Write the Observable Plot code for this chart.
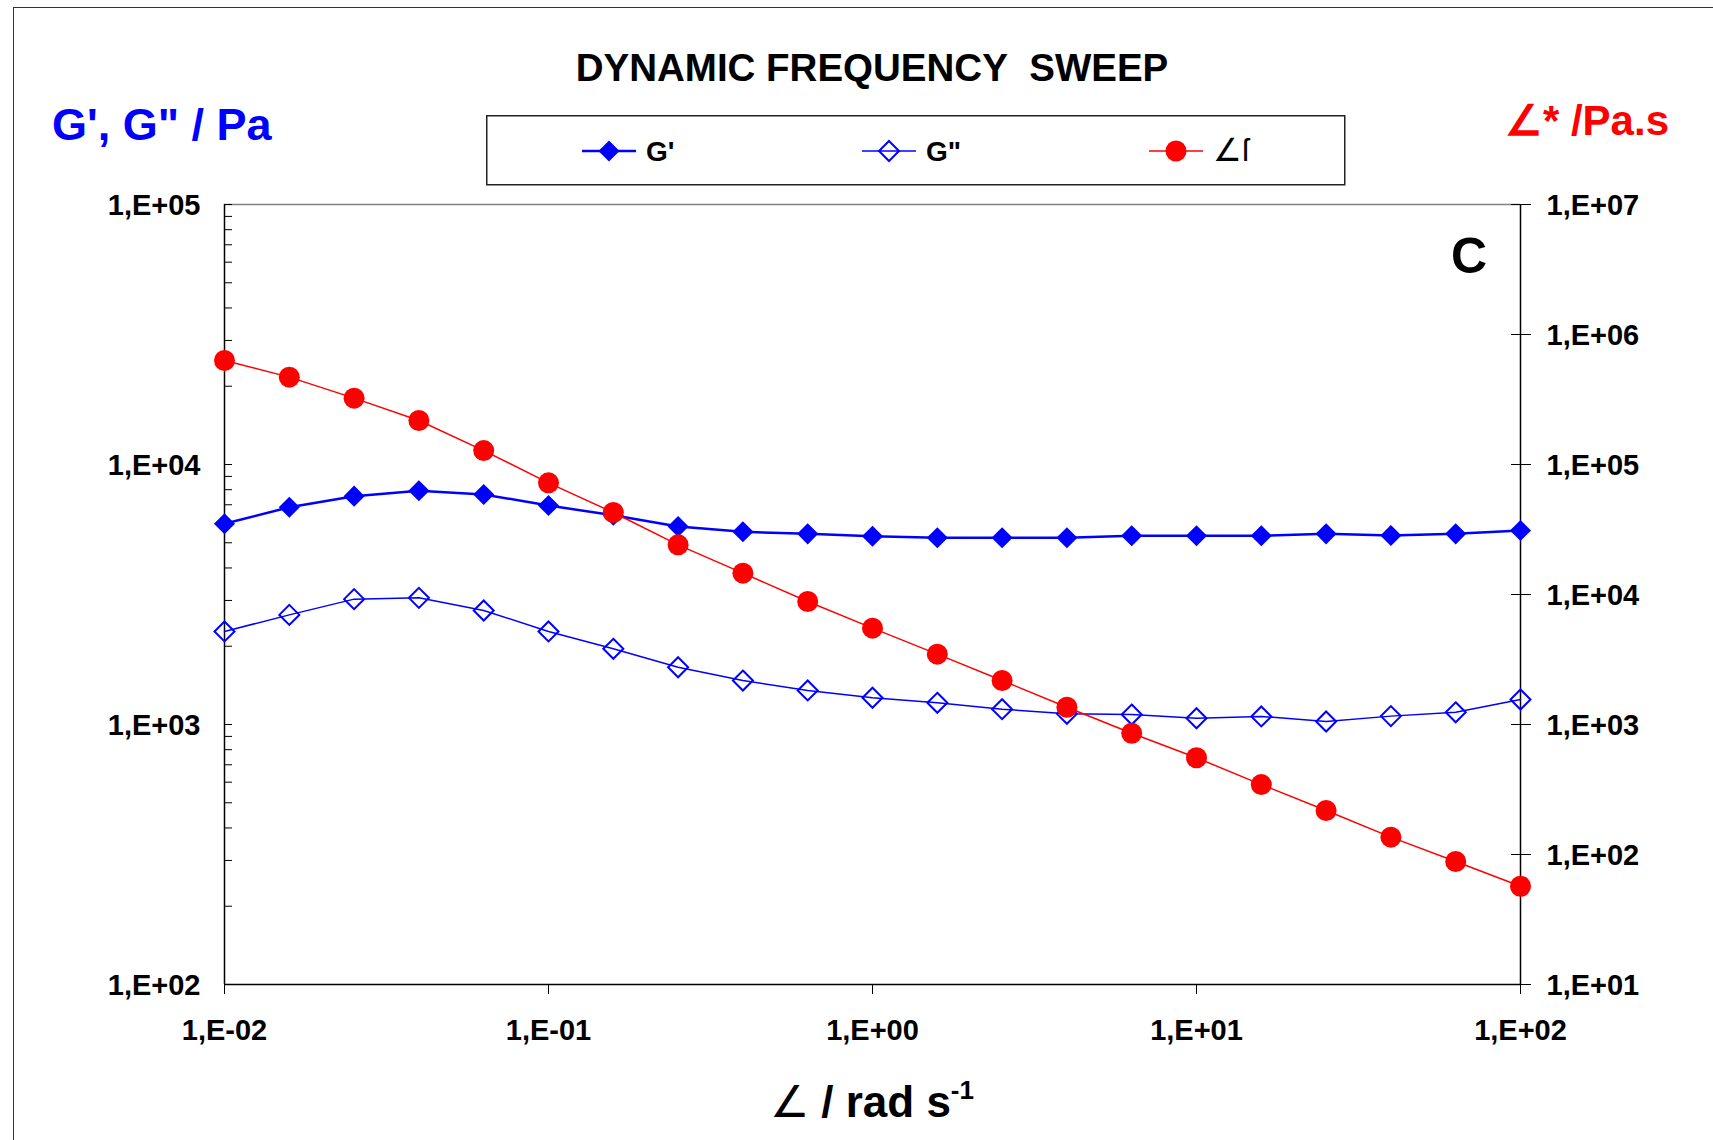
<!DOCTYPE html>
<html><head><meta charset="utf-8">
<script src="https://cdn.jsdelivr.net/npm/d3@7"></script>
<script src="https://cdn.jsdelivr.net/npm/@observablehq/plot@0.6"></script>
<style>
body{margin:0;background:#fff;}
#wrap{position:relative;width:1713px;height:1140px;overflow:hidden;font-family:"Liberation Sans",Arial,sans-serif;background:#fff;}
.abs{position:absolute;white-space:nowrap;line-height:1;}
#plot{position:absolute;left:0;top:0;}
</style></head><body><div id="wrap"><div id="plot"></div></div>
<script>
// angular frequency (rad/s)
const omega = [0.01, 0.01585, 0.02512, 0.03981, 0.0631, 0.1, 0.1585, 0.2512, 0.3981, 0.631,
               1, 1.585, 2.512, 3.981, 6.31, 10, 15.85, 25.12, 39.81, 63.1, 100];
// storage modulus G' (Pa)
const gPrime = [5915, 6850, 7555, 7925, 7670, 6955, 6380, 5775, 5510, 5410,
                5300, 5225, 5225, 5225, 5320, 5320, 5320, 5410, 5330, 5410, 5575];
// loss modulus G'' (Pa)
const gDouble = [2280, 2640, 3035, 3070, 2745, 2280, 1955, 1660, 1476, 1352,
                 1267, 1212, 1145, 1099, 1092, 1057, 1074, 1027, 1077, 1114, 1248];
// complex viscosity eta* (Pa.s)
const etaStar = [631000, 470000, 324000, 218000, 128000, 72300, 42700, 24100, 14600, 8830,
                 5510, 3475, 2180, 1358, 857, 555, 345, 218, 136, 88.3, 57];

const xTicks = [0.01, 0.1, 1, 10, 100];
const yLeftTicks = [100, 1000, 10000, 100000];
const yLeftMinor = [200, 300, 400, 500, 600, 700, 800, 900,
                    2000, 3000, 4000, 5000, 6000, 7000, 8000, 9000,
                    20000, 30000, 40000, 50000, 60000, 70000, 80000, 90000];
const yRightTicks = [10, 100, 1000, 10000, 100000, 1000000, 10000000];

const seriesNames = ["G'", "G\"", "\u2220\u017F"];
const titleText = "DYNAMIC FREQUENCY\u00A0 SWEEP";

// right axis (1E+01..1E+07) mapped onto the left scale (1E+02..1E+05)
const toLeft = e => Math.sqrt(e * 1000);
const fromLeft = v => v * v / 1000;
const fmtE = v => { const e = Math.round(Math.log10(v)); return "1,E" + (e < 0 ? "-" : "+") + String(Math.abs(e)).padStart(2, "0"); };

const rows = omega.map((w, i) => ({w, g1: gPrime[i], g2: gDouble[i], eta: toLeft(etaStar[i])}));

const BLUE = "#0000ff", RED = "#ff0000";
const font = '"Liberation Sans", Arial, sans-serif';

const chart = Plot.plot({
  width: 1713, height: 1140,
  marginLeft: 224, marginRight: 193, marginTop: 204, marginBottom: 156,
  style: {fontFamily: font, background: "transparent", color: "#000", overflow: "visible"},
  x: {type: "log", domain: [0.01, 100]},
  y: {type: "log", domain: [100, 100000]},
  marks: [
    Plot.ruleY([100000], {stroke: "#808080", strokeWidth: 1.5}),
    Plot.ruleY([100], {stroke: "#000", strokeWidth: 1.5}),
    Plot.ruleX([0.01], {stroke: "#000", strokeWidth: 1.5}),
    Plot.ruleX([100], {stroke: "#000", strokeWidth: 1.5}),
    // left axis: inward ticks
    Plot.axisY({anchor: "left", ticks: yLeftTicks.concat(yLeftMinor), tickSize: 8, dx: 8, tickFormat: () => "", label: null, stroke: "#000"}),
    Plot.axisY({anchor: "left", ticks: yLeftTicks, tickSize: 0, tickPadding: 24, tickFormat: fmtE, label: null, fontSize: 29, fontWeight: "bold", dy: 1}),
    // right axis: crossing ticks
    Plot.axisY({anchor: "right", ticks: yRightTicks.map(toLeft), tickSize: 20, dx: -10, tickFormat: () => "", label: null, stroke: "#000"}),
    Plot.axisY({anchor: "right", ticks: yRightTicks.map(toLeft), tickSize: 0, tickPadding: 26, tickFormat: v => fmtE(fromLeft(v)), label: null, fontSize: 29, fontWeight: "bold", dy: 1}),
    // bottom axis
    Plot.axisX({ticks: xTicks, tickSize: 10, tickPadding: 25, tickFormat: fmtE, label: null, fontSize: 29, fontWeight: "bold", stroke: "#000"}),
    // series
    Plot.line(rows, {x: "w", y: "g1", stroke: BLUE, strokeWidth: 2.5}),
    Plot.dot(rows, {x: "w", y: "g1", symbol: "diamond2", r: 9.5, fill: BLUE}),
    Plot.line(rows, {x: "w", y: "g2", stroke: BLUE, strokeWidth: 1.5}),
    Plot.dot(rows, {x: "w", y: "g2", symbol: "diamond2", r: 9, fill: "none", stroke: BLUE, strokeWidth: 2}),
    Plot.line(rows, {x: "w", y: "eta", stroke: RED, strokeWidth: 1.5}),
    Plot.dot(rows, {x: "w", y: "eta", r: 10.5, fill: RED})
  ]
});
document.getElementById("plot").appendChild(chart);

const wrap = d3.select("#wrap");
// outer frame
wrap.append("div").attr("class", "abs")
  .style("left", "13px").style("top", "7px").style("width", "1800px").style("height", "1200px")
  .style("border-left", "1.5px solid #333").style("border-top", "1.5px solid #333");
// title
wrap.append("div").attr("class", "abs").text(titleText)
  .style("left", "872px").style("top", "68px").style("transform", "translate(-50%,-50%)")
  .style("font-size", "38.5px").style("font-weight", "bold");
// left axis title
wrap.append("div").attr("class", "abs").text("G', G\" / Pa")
  .style("left", "52px").style("top", "124px").style("transform", "translateY(-50%)")
  .style("font-size", "45px").style("font-weight", "bold").style("color", BLUE);
// right axis title
wrap.append("div").attr("class", "abs").text("\u2220* /Pa.s")
  .style("right", "44px").style("top", "121px").style("transform", "translateY(-50%)")
  .style("font-size", "42px").style("font-weight", "bold").style("color", RED);
// panel label
wrap.append("div").attr("class", "abs").text("C")
  .style("left", "1469px").style("top", "256px").style("transform", "translate(-50%,-50%)")
  .style("font-size", "50px").style("font-weight", "bold");
// x axis title
wrap.append("div").attr("class", "abs")
  .html('<span style="font-weight:normal">\u2220</span> / rad s<sup style="font-size:26px;vertical-align:18px">-1</sup>')
  .style("left", "872px").style("top", "1100px").style("transform", "translate(-50%,-50%)")
  .style("font-size", "44px").style("font-weight", "bold");

// legend
const leg = wrap.append("svg").attr("class", "abs")
  .style("left", "486px").style("top", "115px").attr("width", 860).attr("height", 71);
leg.append("rect").attr("x", 0.75).attr("y", 0.75).attr("width", 858).attr("height", 69)
  .attr("fill", "#fff").attr("stroke", "#222").attr("stroke-width", 1.5);
const legItems = [
  {name: seriesNames[0], x: 123, sym: d3.symbolDiamond2, r: 9.5, fill: BLUE, stroke: "none", lw: 2.5, lc: BLUE, fw: "bold"},
  {name: seriesNames[1], x: 403, sym: d3.symbolDiamond2, r: 9, fill: "none", stroke: BLUE, lw: 1.5, lc: BLUE, fw: "bold"},
  {name: seriesNames[2], x: 690, sym: d3.symbolCircle, r: 10.5, fill: RED, stroke: "none", lw: 1.5, lc: RED, fw: "normal"}
];
legItems.forEach(it => {
  const g = leg.append("g").attr("transform", `translate(${it.x},36)`);
  g.append("line").attr("x1", -27).attr("x2", 27).attr("stroke", it.lc).attr("stroke-width", it.lw);
  g.append("path").attr("d", d3.symbol(it.sym, Math.PI * it.r * it.r)())
    .attr("fill", it.fill).attr("stroke", it.stroke).attr("stroke-width", 2);
  g.append("text").attr("x", 37).attr("y", 10).text(it.name)
    .attr("font-family", font).attr("font-size", it.fw === "normal" ? 32 : 28).attr("font-weight", it.fw);
});
</script>
</body></html>
